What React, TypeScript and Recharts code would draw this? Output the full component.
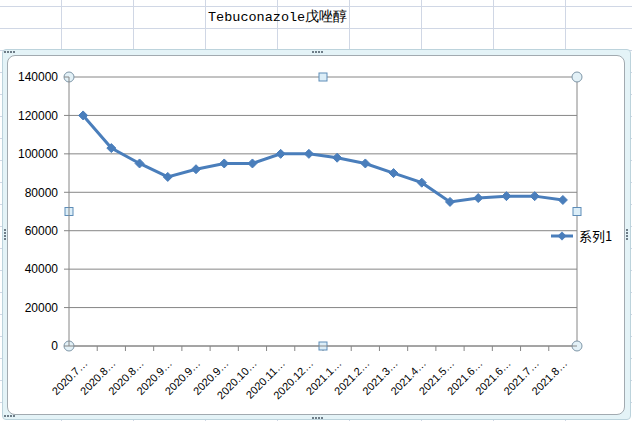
import React from "react";
import { LineChart, Line, XAxis, YAxis, CartesianGrid, Customized } from "recharts";

const categories = [
  "2020.7…", "2020.8…", "2020.8…", "2020.9…", "2020.9…", "2020.9…",
  "2020.10…", "2020.11…", "2020.12…", "2021.1…", "2021.2…", "2021.3…",
  "2021.4…", "2021.5…", "2021.6…", "2021.6…", "2021.7…", "2021.8…",
];
const series1 = [
  120000, 103000, 95000, 88000, 92000, 95000, 95000, 100000, 100000,
  98000, 95000, 90000, 85000, 75000, 77000, 78000, 78000, 76000,
];
const yTicks = [0, 20000, 40000, 60000, 80000, 100000, 120000, 140000];
const seriesName = "系列1";
const title = "Tebuconazole戊唑醇";

const data = categories.map((c, i) => ({ label: c, value: series1[i] }));

// chart geometry (plot area = x 69..577, y 77..346 on the page)
const W = 617;
const H = 358;
const M = { top: 21, right: 48, left: 0, bottom: 0 };
const Y_W = 61;
const X_H = 68;
const BLUE = "#4A7EBB";
const AXIS = "#868686";
const HALF_BAND = (W - M.right - M.left - Y_W) / categories.length / 2;

const Diamond = (props: any) => {
  const { cx, cy, index } = props;
  if (cx == null || cy == null) return null;
  const r = 4.5;
  return (
    <path
      key={index}
      d={`M${cx},${cy - r}L${cx + r},${cy}L${cx},${cy + r}L${cx - r},${cy}Z`}
      fill={BLUE}
      stroke={BLUE}
    />
  );
};

const XTick = (props: any) => {
  const { x, y, payload } = props;
  const tx = x + 3;
  const ty = y + 8;
  return (
    <text
      x={tx}
      y={ty}
      transform={`rotate(-45, ${tx}, ${ty})`}
      textAnchor="end"
      dominantBaseline="middle"
      fontSize={11}
      fontFamily="Liberation Sans, Arial, sans-serif"
      fill="#000"
    >
      {payload.value}
    </text>
  );
};

// plot-area border, category tick marks and selection handles
const PlotDecor = () => {
  const left = M.left + Y_W;
  const right = W - M.right;
  const top = M.top;
  const bottom = H - X_H;
  const n = categories.length;
  const bw = (right - left) / n;
  const midX = (left + right) / 2;
  const midY = (top + bottom) / 2;
  const ticks = [];
  for (let k = 1; k <= n; k++) {
    const x = left + k * bw;
    ticks.push(<line key={k} x1={x} y1={bottom} x2={x} y2={bottom + 5} stroke={AXIS} />);
  }
  const circ = (x: number, y: number, k: string) => (
    <circle key={k} cx={x} cy={y} r={5} fill="#E3F1F7" stroke="#7F97A8" />
  );
  const sq = (x: number, y: number, k: string) => (
    <rect key={k} x={x - 4} y={y - 4} width={8} height={8} fill="#DCEEF8" stroke="#5E8DB8" />
  );
  return (
    <g>
      <line x1={right} y1={top} x2={right} y2={bottom} stroke={AXIS} />
      {ticks}
      {circ(left, top, "c1")}
      {circ(right, top, "c2")}
      {circ(left, bottom, "c3")}
      {circ(right, bottom, "c4")}
      {sq(midX, top, "s1")}
      {sq(midX, bottom, "s2")}
      {sq(left, midY, "s3")}
      {sq(right, midY, "s4")}
    </g>
  );
};

const Grip = ({ x, y, vertical }: { x: number; y: number; vertical?: boolean }) => (
  <div style={{ position: "absolute", left: x, top: y, display: "flex", flexDirection: vertical ? "column" : "row", gap: 1 }}>
    {[0, 1, 2, 3].map((i) => (
      <div key={i} style={{ width: 2, height: 2, background: "#6E7D88" }} />
    ))}
  </div>
);

export default function App() {
  return (
    <div
      style={{
        position: "fixed",
        left: 0,
        top: 0,
        width: 632,
        height: 421,
        overflow: "hidden",
        background: "#fff",
        backgroundImage:
          "repeating-linear-gradient(to right, transparent 0px, transparent 61px, #D0D7E5 61px, #D0D7E5 62px, transparent 62px, transparent 72px)," +
          "repeating-linear-gradient(to bottom, transparent 0px, transparent 6px, #D0D7E5 6px, #D0D7E5 7px, transparent 7px, transparent 22px)",
        backgroundPosition: "0 0, 0 0",
      }}
    >
      <div
        style={{
          position: "absolute",
          left: 208,
          top: 9,
          fontFamily: "Liberation Mono, 'DejaVu Sans Mono', monospace",
          fontSize: 13.5,
          lineHeight: "18px",
          color: "#000",
          whiteSpace: "nowrap",
        }}
      >
        {title}
      </div>

      {/* chart selection frame */}
      <div
        style={{
          position: "absolute",
          left: 2,
          top: 49,
          width: 627,
          height: 369,
          background: "#E4F3F7",
          border: "1px solid #BCD3DC",
          borderRadius: 4,
        }}
      />
      <div
        style={{
          position: "absolute",
          left: 7,
          top: 55,
          width: 616,
          height: 358,
          background: "#fff",
          border: "1px solid #A2AAB0",
          borderRadius: 8,
        }}
      />
      <Grip x={312} y={51} />
      <Grip x={312} y={417} />
      <Grip x={4} y={229} vertical />
      <Grip x={626} y={229} vertical />
      <Grip x={4} y={51} />
      <Grip x={4} y={415} />

      <div style={{ position: "absolute", left: 8, top: 56 }}>
        <LineChart width={W} height={H} data={data} margin={M}>
          <CartesianGrid vertical={false} stroke={AXIS} strokeWidth={1} />
          <XAxis
            dataKey="label"
            interval={0}
            height={X_H}
            padding={{ left: HALF_BAND, right: HALF_BAND }}
            tickLine={false}
            axisLine={{ stroke: AXIS }}
            tick={XTick}
          />
          <YAxis
            width={Y_W}
            domain={[0, 140000]}
            ticks={yTicks}
            interval={0}
            tickSize={5}
            tickMargin={6}
            axisLine={{ stroke: AXIS }}
            tickLine={{ stroke: AXIS }}
            tick={{ fontSize: 12, fill: "#000", fontFamily: "Liberation Sans, Arial, sans-serif" }}
          />
          <Line
            dataKey="value"
            name={seriesName}
            stroke={BLUE}
            strokeWidth={3}
            dot={Diamond}
            activeDot={false}
            isAnimationActive={false}
          />
          <Customized component={<PlotDecor />} />
        </LineChart>
      </div>

      {/* legend */}
      <div style={{ position: "absolute", left: 551, top: 227, display: "flex", alignItems: "center" }}>
        <svg width={26} height={18}>
          <line x1={0} y1={9} x2={22} y2={9} stroke={BLUE} strokeWidth={3} />
          <path d="M11,4.5L15.5,9L11,13.5L6.5,9Z" fill={BLUE} />
        </svg>
        <span
          style={{
            marginLeft: 2,
            fontSize: 13,
            fontFamily: "'Noto Sans CJK SC', sans-serif",
            lineHeight: "18px",
            color: "#000",
          }}
        >
          {seriesName}
        </span>
      </div>
    </div>
  );
}
